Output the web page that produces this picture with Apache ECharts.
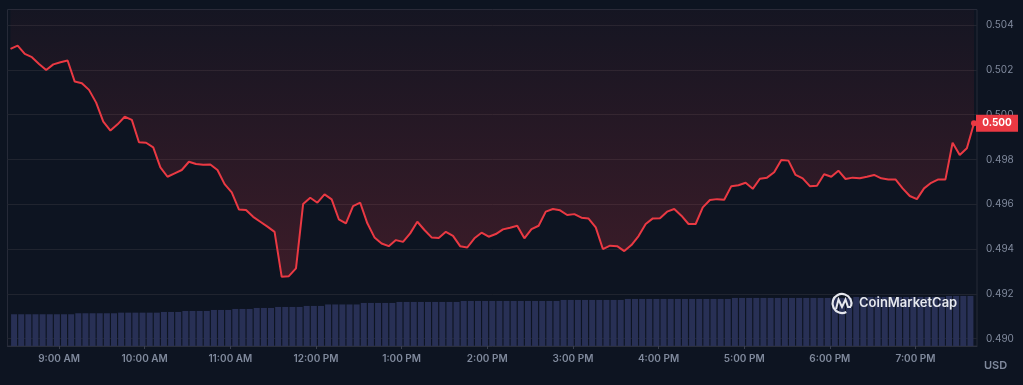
<!DOCTYPE html>
<html><head><meta charset="utf-8">
<script src="https://cdn.jsdelivr.net/npm/echarts@6/dist/echarts.min.js"></script>
<style>html,body{margin:0;padding:0;background:#0d1421;}#c{width:1023px;height:385px;}</style>
</head><body><div id="c"></div>
<script>
// ---- data ----
const startHour = 8, startMinute = 26, stepMinutes = 5;
const prices = [
  0.50294, 0.50309, 0.50272, 0.50257, 0.50227, 0.50200, 0.50225, 0.50234, 0.50242, 0.50148,
  0.50141, 0.50111, 0.50054, 0.49969, 0.49929, 0.49957, 0.49991, 0.49977, 0.49877, 0.49875,
  0.49854, 0.49765, 0.49723, 0.49738, 0.49753, 0.49790, 0.49780, 0.49777, 0.49778, 0.49753,
  0.49690, 0.49653, 0.49577, 0.49574, 0.49544, 0.49522, 0.49500, 0.49477, 0.49276, 0.49279,
  0.49314, 0.49601, 0.49629, 0.49607, 0.49644, 0.49622, 0.49533, 0.49515, 0.49592, 0.49607,
  0.49515, 0.49452, 0.49425, 0.49413, 0.49440, 0.49432, 0.49470, 0.49522, 0.49485, 0.49452,
  0.49449, 0.49477, 0.49459, 0.49413, 0.49407, 0.49448, 0.49473, 0.49455, 0.49467, 0.49488,
  0.49495, 0.49504, 0.49448, 0.49489, 0.49504, 0.49567, 0.49579, 0.49573, 0.49552, 0.49556,
  0.49540, 0.49536, 0.49497, 0.49400, 0.49415, 0.49413, 0.49391, 0.49418, 0.49458, 0.49512,
  0.49537, 0.49538, 0.49567, 0.49579, 0.49549, 0.49512, 0.49512, 0.49586, 0.49619, 0.49623,
  0.49620, 0.49681, 0.49685, 0.49696, 0.49669, 0.49714, 0.49719, 0.49743, 0.49798, 0.49795,
  0.49731, 0.49716, 0.49681, 0.49683, 0.49734, 0.49723, 0.49750, 0.49713, 0.49719, 0.49716,
  0.49723, 0.49731, 0.49716, 0.49711, 0.49711, 0.49671, 0.49637, 0.49623, 0.49671, 0.49696,
  0.49711, 0.49711, 0.49875, 0.49820, 0.49850, 0.49962
];
const volumes = [
  31.7, 31.7, 31.7, 31.7, 31.7, 31.7, 31.7, 31.7, 31.7,
  32.7, 32.7, 32.7, 32.7, 32.7, 32.7,
  33.3, 33.3, 33.3, 33.3, 33.3, 33.3,
  34, 34, 34,
  35, 35, 35, 35,
  36, 36, 36,
  37, 37, 37,
  38, 38, 38,
  39, 39, 39, 39,
  40, 40, 40,
  41.5, 41.5, 41.5, 41.5, 41.5,
  43, 43, 43, 43, 43,
  44, 44, 44, 44, 44, 44, 44, 44, 44,
  45, 45, 45, 45, 45, 45, 45, 45, 45, 45, 45, 45, 45, 45,
  46, 46, 46, 46, 46, 46, 46, 46, 46,
  47, 47, 47, 47, 47, 47, 47, 47, 47, 47, 47, 47, 47, 47, 47,
  48, 48, 48, 48, 48, 48, 48, 48, 48, 48, 48, 48, 48, 48, 48, 48, 48,
  49, 49, 49, 49, 49, 49, 49, 49, 49, 49, 49, 49, 49,
  50, 50, 50, 50
];
const priceTicks = [0.490, 0.492, 0.494, 0.496, 0.498, 0.500, 0.502, 0.504];
const priceMin = 0.48967, priceMax = 0.50470;
const volumeMax = 336;

// ---- build ----
const base = new Date(2024, 0, 15, startHour, startMinute).getTime();
const stepMs = stepMinutes * 60000;
const lineData = prices.map((p, i) => [base + i * stepMs, p]);
const barData = volumes.map((v, i) => [base + (i + 0.5) * stepMs, v]);
const lastT = lineData[lineData.length - 1][0];
const lastP = prices[prices.length - 1];

function fmtTime(v) {
  const d = new Date(v);
  if (d.getMinutes() !== 0) return '';
  let h = d.getHours();
  const ap = h < 12 ? 'AM' : 'PM';
  h = h % 12 || 12;
  return h + ':00 ' + ap;
}

const FONT = 'Inter, "Noto Sans", sans-serif';
const chart = echarts.init(document.getElementById('c'), null, { renderer: 'canvas' });
chart.setOption({
  backgroundColor: '#0d1421',
  animation: false,
  grid: { left: 7.5, right: 46, top: 9.5, bottom: 39, show: true, borderColor: '#262a38', borderWidth: 1, backgroundColor: 'transparent' },
  xAxis: {
    type: 'time', min: base, max: lastT,
    minInterval: 3600000, maxInterval: 3600000,
    axisLine: { lineStyle: { color: '#2b2f3d' } },
    axisTick: { show: true, length: 3, lineStyle: { color: '#3a3f4e' } },
    axisLabel: { formatter: fmtTime, color: '#808a9d', fontSize: 10, fontWeight: 600, fontFamily: FONT, margin: 8, showMinLabel: false, showMaxLabel: false, hideOverlap: false },
    splitLine: { show: false }
  },
  yAxis: [
    {
      type: 'value', position: 'right', min: priceMin, max: priceMax, scale: true,
      axisLine: { show: false },
      axisTick: { show: false, customValues: priceTicks },
      splitLine: { show: true, lineStyle: { color: '#20242f', width: 1 } },
      axisLabel: { customValues: priceTicks, formatter: v => v.toFixed(3), color: '#808a9d', fontSize: 10, fontFamily: FONT, margin: 9 }
    },
    { type: 'value', min: 0, max: volumeMax, show: false }
  ],
  series: [
    {
      type: 'bar', data: barData, yAxisIndex: 1, barWidth: 6, z: 1, silent: true,
      itemStyle: { color: '#283055' }
    },
    {
      type: 'line', data: lineData, yAxisIndex: 0, z: 3, showSymbol: false, silent: true,
      lineStyle: { color: '#ea3943', width: 2 },
      areaStyle: {
        origin: 'end',
        color: new echarts.graphic.LinearGradient(0, 0, 0, 1, [
          { offset: 0, color: 'rgba(234,57,67,0.05)' },
          { offset: 1, color: 'rgba(234,57,67,0.30)' }
        ])
      },
      markPoint: {
        silent: true, animation: false,
        data: [
          { coord: [lastT, lastP], symbol: 'circle', symbolSize: 6, itemStyle: { color: '#ea3943' }, label: { show: false } },
          { coord: [lastT, lastP], symbol: 'rect', symbolSize: [42, 17], symbolOffset: [23, 0], itemStyle: { color: '#ea3943' },
            label: { show: true, position: 'inside', formatter: lastP.toFixed(3), color: '#ffffff', fontSize: 10, fontWeight: 'bold', fontFamily: FONT } }
        ]
      }
    }
  ],
  graphic: [
    { type: 'text', left: 984, top: 360, style: { text: 'USD', fill: '#808a9d', font: '600 11px ' + FONT } },
    { type: 'arc', shape: { cx: 842, cy: 303.5, r: 9.5, startAngle: 0.35 * Math.PI, endAngle: 2.1 * Math.PI }, style: { stroke: '#e6e8ee', lineWidth: 2.2, fill: null }, z: 10 },
    { type: 'polyline', shape: { points: [[836, 309], [838.5, 299.5], [842, 307], [845.5, 299.5], [848, 307], [851, 307]] }, style: { stroke: '#e6e8ee', lineWidth: 2, fill: null }, z: 10 },
    { type: 'text', left: 859, top: 297, style: { text: 'CoinMarketCap', fill: '#e6e8ee', font: '600 13px ' + FONT }, z: 10 }
  ]
});
</script>
</body></html>
